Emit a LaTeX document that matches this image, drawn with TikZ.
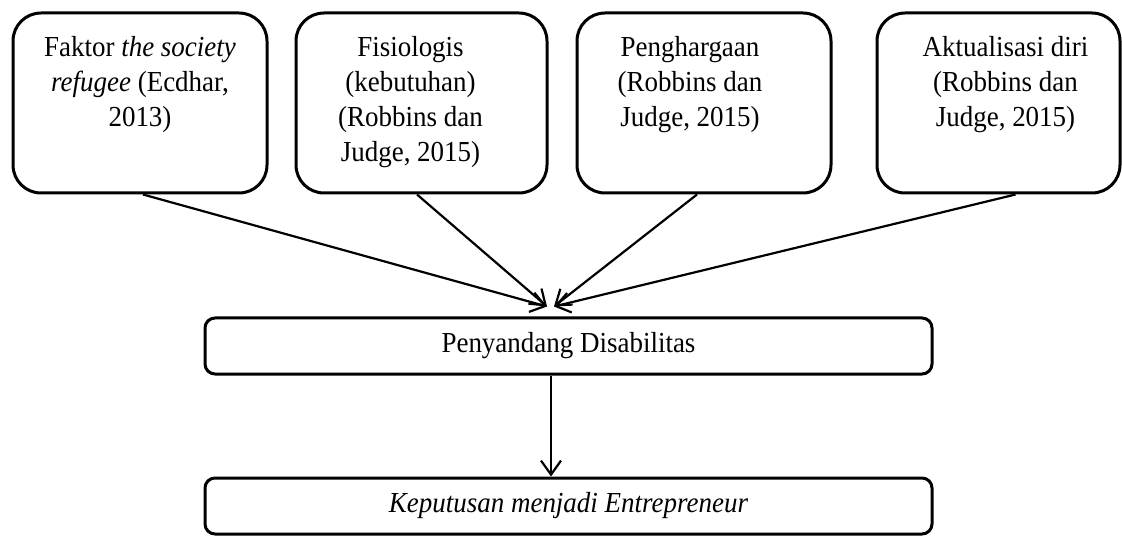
\documentclass[tikz,border=0pt]{standalone}
\usepackage{fontspec}
\setmainfont{Liberation Serif}[FakeStretch=0.93]
\usetikzlibrary{arrows.meta}
\newcommand\boxtxt[4]{\parbox[c][180pt][t]{#1}{\centering\leftskip=#2 plus 1fil\rightskip=#3 plus 1fil\fontsize{29}{35}\selectfont\vspace*{19.5pt}\strut #4}}
\begin{document}
\begin{tikzpicture}[x=1pt,y=-1pt,
  topbox/.style={draw, line width=3pt, rounded corners=28pt, inner sep=0pt, minimum height=180pt},
  flatbox/.style={draw, line width=3pt, rounded corners=10pt, inner sep=0pt,
    minimum width=727pt, minimum height=56pt, font=\fontsize{29}{35}\selectfont},
  conn/.style={line width=2.2pt, -{Straight Barb[length=14pt,width=20pt]}}]
\useasboundingbox (0,0) rectangle (1122,537);
\node[topbox, minimum width=254pt] (b1) at (140,103)
  {\boxtxt{240pt}{0pt}{0pt}{Faktor \textit{the society}\\\textit{refugee} (Ecdhar,\\2013)}};
\node[topbox, minimum width=251pt] (b2) at (421.5,103)
  {\boxtxt{237pt}{0pt}{22pt}{Fisiologis\\(kebutuhan)\\(Robbins dan\\Judge, 2015)}};
\node[topbox, minimum width=254pt] (b3) at (704,103)
  {\boxtxt{240pt}{0pt}{28pt}{Penghargaan\\(Robbins dan\\Judge, 2015)}};
\node[topbox, minimum width=243pt] (b4) at (998.5,103)
  {\boxtxt{230pt}{14pt}{0pt}{Aktualisasi diri\\(Robbins dan\\Judge, 2015)}};
\node[flatbox] (mid) at (568.5,346) {Penyandang Disabilitas};
\node[flatbox] (bot) at (568.5,506) {\textit{Keputusan menjadi Entrepreneur}};
\draw[conn] ([xshift=3pt]b1.south) -- ([xshift=-21.5pt,yshift=10pt]mid.north);
\draw[conn] ([xshift=-4.5pt]b2.south) -- ([xshift=-21.5pt,yshift=10pt]mid.north);
\draw[conn] ([xshift=-7pt]b3.south) -- ([xshift=-14.5pt,yshift=10pt]mid.north);
\draw[conn] ([xshift=17pt]b4.south) -- ([xshift=-14.5pt,yshift=10pt]mid.north);
\draw[conn] ([xshift=-17.5pt]mid.south) -- ([xshift=-17.5pt]bot.north);
\end{tikzpicture}
\end{document}
